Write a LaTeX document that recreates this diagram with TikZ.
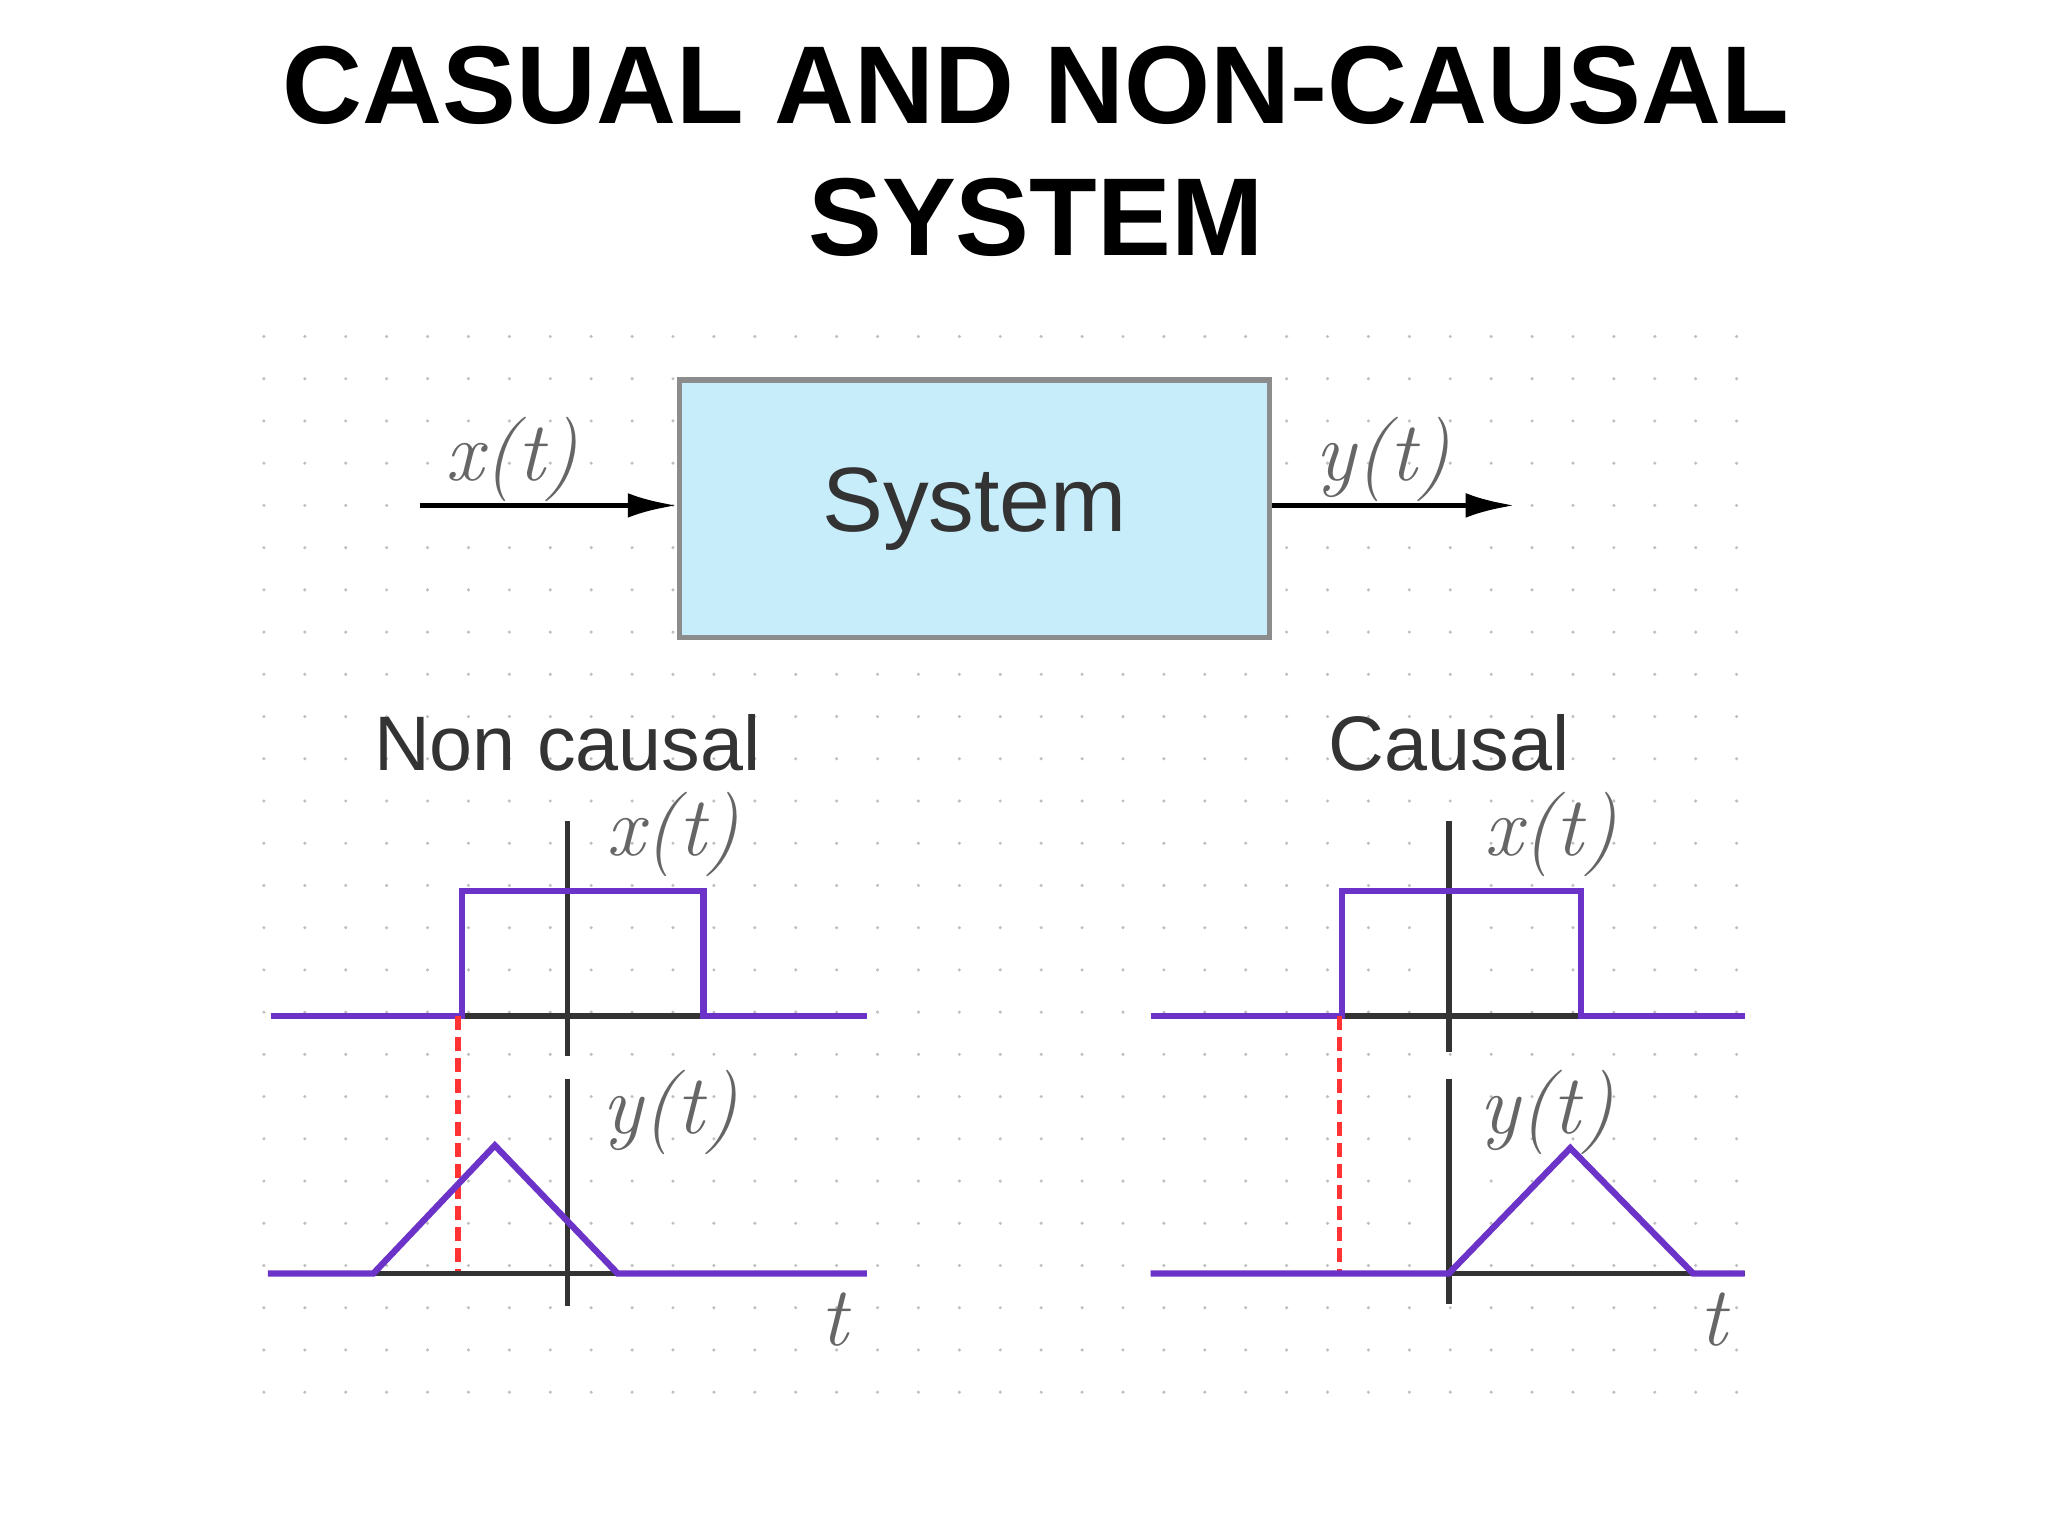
\documentclass[tikz,border=0pt]{standalone}
\usepackage{fontspec}
\setmainfont{Liberation Sans}
\newfontfamily\lmfont{Latin Modern Roman}
\usetikzlibrary{arrows.meta}
\begin{document}
\begin{tikzpicture}[x=0.013196cm,y=-0.013196cm,
  lbl/.style={font=\fontsize{24}{28}\selectfont\lmfont\itshape, text=black!60},
  sig/.style={draw=violet!55!blue!80, line width=1.8pt},
  ax/.style={draw=black!80, line width=1.6pt},
  red/.style={draw=red!80, line width=1.6pt, dash pattern=on 4pt off 2pt},
  arr/.style={draw=black, line width=1.6pt, -{Latex[length=14pt,width=7pt]}}]
\useasboundingbox (0,0) rectangle (1552,1164);
\fill[white] (0,0) rectangle (1552,1164);
\foreach \i in {0,...,36} \foreach \j in {0,...,25}
  \fill[black!25] (200+31*\i,255+32*\j) circle (1.3);
\node (t1) at (785,65) {\fontsize{31.5}{38}\selectfont\bfseries CASUAL AND NON-CAUSAL};
\node (t2) at (785,165) {\fontsize{31.5}{38}\selectfont\bfseries SYSTEM};
\node[draw=black!45, line width=1.5pt, fill=cyan!22, minimum width=447*0.013196cm, minimum height=195*0.013196cm, font=\fontsize{26}{30}\selectfont, text=black!80] (sys) at (738.5,385.5) {System};
\coordinate (in) at (318,383);
\coordinate (out) at (1148,383);
\draw[arr] (in) -- (in -| sys.west);
\draw[arr] (out -| sys.east) -- (out);
\node[lbl] (xl) at (388,348) {x(t)};
\node[lbl] (yl) at (1048,348) {y(t)};
\node[font=\fontsize{22}{26}\selectfont, text=black!80] (nc) at (430,563) {Non causal};
\node[font=\fontsize{22}{26}\selectfont, text=black!80] (c) at (1098,563) {Causal};
\draw[ax] (205,770) -- (657,770);
\draw[ax] (430,622) -- (430,800);
\draw[sig] (205,770) -- (350,770) -- (350,675) -- (533,675) -- (533,770) -- (657,770);
\node[lbl] (lx) at (510,632) {x(t)};
\draw[red] (347,770) -- (347,965);
\draw[ax] (203,965) -- (657,965);
\draw[ax] (430,818) -- (430,990);
\draw[sig] (203,965) -- (283,965) -- (375,868) -- (468,965) -- (657,965);
\node[lbl] (ly) at (508,843) {y(t)};
\node[lbl] (lt) at (632,1000) {t};
\draw[ax] (872,770) -- (1322,770);
\draw[ax] (1098,622) -- (1098,797);
\draw[sig] (872,770) -- (1017,770) -- (1017,675) -- (1198,675) -- (1198,770) -- (1322,770);
\node[lbl] (rx) at (1175,632) {x(t)};
\draw[red] (1015,770) -- (1015,965);
\draw[ax] (872,965) -- (1322,965);
\draw[ax] (1098,818) -- (1098,988);
\draw[sig] (872,965) -- (1098,965) -- (1190,870) -- (1283,965) -- (1322,965);
\node[lbl] (ry) at (1172,843) {y(t)};
\node[lbl] (rt) at (1298,1000) {t};
\end{tikzpicture}
\end{document}
